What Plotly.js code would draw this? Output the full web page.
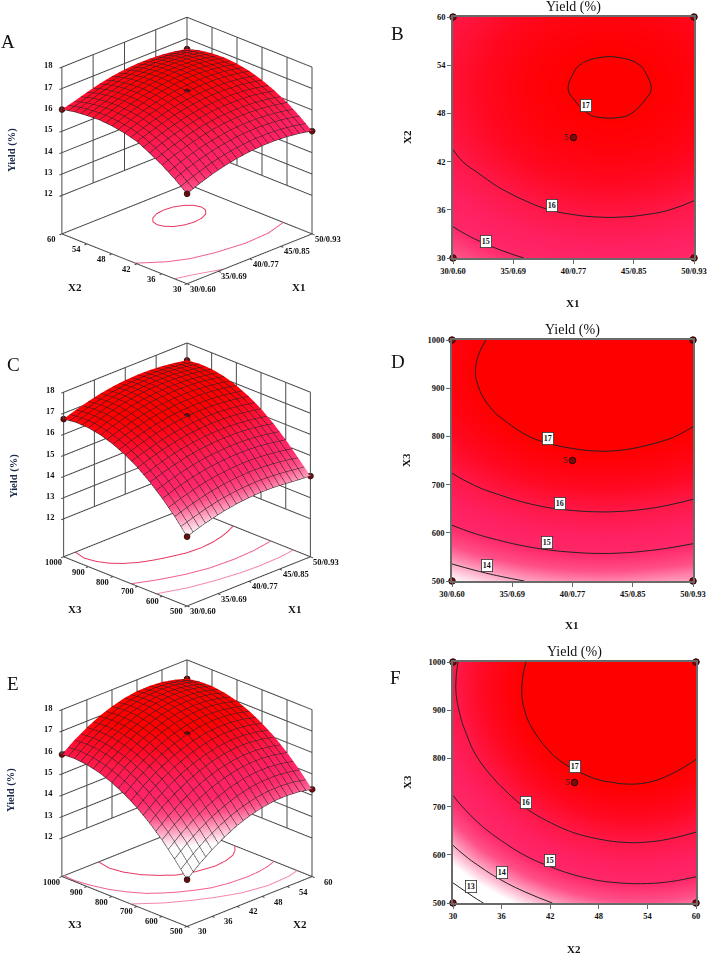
<!DOCTYPE html>
<html><head><meta charset="utf-8">
<script src="https://cdn.plot.ly/plotly-3.0.1.min.js"></script>
<style>html,body{margin:0;padding:0;background:#fff}#g{width:708px;height:954px}</style>
</head><body><div id="g"></div>
<script>
// ---------- axes ----------
const x1Grid=[30,32,34,36,38,40,42,44,46,48,50];
const x2Grid=[30,33,36,39,42,45,48,51,54,57,60];
const x3Grid=[500,550,600,650,700,750,800,850,900,950,1000];
const x1Ticks=[30,35,40,45,50];
const x1Labels=['30/0.60','35/0.69','40/0.77','45/0.85','50/0.93'];
const x2Ticks=[30,36,42,48,54,60];
const x3Ticks=[500,600,700,800,900,1000];
const zTicks=[12,13,14,15,16,17,18];
const contourLevels=[13,14,15,16,17];
const floorZ=10.2, topZ=18;
// ---------- yield, X1 (columns) by X2 (rows) ----------
const yieldX1X2=[
[14.41,14.65,14.85,15.01,15.13,15.21,15.25,15.25,15.21,15.13,15.01],
[14.88,15.12,15.32,15.48,15.60,15.68,15.72,15.72,15.68,15.60,15.48],
[15.28,15.52,15.72,15.88,16.00,16.08,16.12,16.12,16.08,16.00,15.88],
[15.62,15.85,16.04,16.20,16.32,16.40,16.44,16.44,16.40,16.32,16.20],
[15.92,16.12,16.30,16.46,16.58,16.66,16.70,16.70,16.66,16.58,16.46],
[16.08,16.30,16.49,16.65,16.77,16.85,16.89,16.89,16.85,16.77,16.65],
[16.18,16.40,16.60,16.76,16.88,16.97,17.02,17.02,16.97,16.88,16.76],
[16.23,16.45,16.65,16.81,16.93,17.02,17.06,17.06,17.02,16.93,16.81],
[16.20,16.42,16.62,16.78,16.90,16.99,17.03,17.03,16.99,16.90,16.78],
[16.14,16.33,16.53,16.69,16.81,16.89,16.93,16.93,16.89,16.81,16.69],
[16.02,16.18,16.36,16.52,16.64,16.72,16.76,16.76,16.72,16.64,16.52]];
// ---------- yield, X1 (columns) by X3 (rows) ----------
const yieldX1X3=[
[13.49,13.69,13.86,14.00,14.10,14.16,14.19,14.18,14.13,14.07,14.03],
[14.21,14.41,14.58,14.72,14.82,14.88,14.91,14.90,14.85,14.77,14.66],
[14.83,15.03,15.20,15.34,15.44,15.50,15.53,15.52,15.47,15.39,15.28],
[15.37,15.57,15.74,15.88,15.98,16.04,16.07,16.06,16.01,15.93,15.82],
[15.83,16.03,16.20,16.34,16.44,16.50,16.53,16.52,16.47,16.39,16.28],
[16.19,16.39,16.56,16.70,16.80,16.86,16.89,16.88,16.83,16.75,16.64],
[16.47,16.67,16.84,16.98,17.08,17.14,17.17,17.16,17.11,17.03,16.92],
[16.67,16.87,17.04,17.18,17.28,17.34,17.37,17.36,17.31,17.23,17.12],
[16.78,16.98,17.15,17.29,17.39,17.45,17.48,17.47,17.42,17.34,17.23],
[16.80,17.00,17.17,17.31,17.41,17.47,17.50,17.49,17.44,17.36,17.25],
[16.73,16.93,17.10,17.24,17.34,17.40,17.43,17.42,17.37,17.29,17.18]];
// ---------- yield, X2 (columns) by X3 (rows) ----------
const yieldX2X3=[
[12.39,12.89,13.32,13.68,13.98,14.20,14.35,14.44,14.45,14.40,14.28],
[13.12,13.62,14.04,14.40,14.68,14.90,15.05,15.12,15.13,15.07,14.95],
[13.78,14.27,14.68,15.03,15.31,15.52,15.66,15.73,15.73,15.66,15.53],
[14.34,14.83,15.23,15.57,15.85,16.05,16.18,16.25,16.24,16.16,16.03],
[14.82,15.29,15.69,16.03,16.29,16.49,16.62,16.67,16.66,16.58,16.43],
[15.21,15.68,16.07,16.40,16.66,16.85,16.97,17.02,17.00,16.91,16.76],
[15.52,15.99,16.37,16.69,16.95,17.13,17.24,17.29,17.26,17.16,17.01],
[15.75,16.20,16.58,16.90,17.14,17.32,17.43,17.46,17.43,17.33,17.16],
[15.89,16.34,16.71,17.02,17.26,17.43,17.53,17.56,17.52,17.41,17.24],
[15.95,16.39,16.75,17.05,17.29,17.45,17.54,17.57,17.52,17.40,17.22],
[15.91,16.35,16.70,17.00,17.22,17.38,17.47,17.48,17.43,17.30,17.12]];
// ---------- contours projected on the floors of the 3D panels ----------
const floorA17x=[46.55,46.28,45.51,44.36,43,41.64,40.49,39.72,39.45,39.72,40.49,41.64,43,44.36,45.51,46.28,46.55];
const floorA17y=[51.35,52.75,53.93,54.72,55,54.72,53.93,52.75,51.35,49.95,48.77,47.98,47.7,47.98,48.77,49.95,51.35];
const floorA16x=[30,32.85,35.3,38.4,42.8,46.7,50];
const floorA16y=[42.4,39,37.2,36,35.2,35.5,36.9];
const floorA15x=[30,32.3,35.9];
const floorA15y=[33,32,30];
const floorC17x=[31.9,31.4,31.7,32.4,33.5,34.9,36.4,38,40.7,42.9,45,46.8,48.5,50];
const floorC17y=[1000,952,910,875,845,820,803,789,771,767,772,782,796,813];
const floorC16x=[30,33,36.3,39.6,43.5,46.8,50];
const floorC16y=[726,692,664,647,642,647,660];
const floorC15x=[30,33.8,37.7,41.3,44,47.4,50];
const floorC15y=[624,591,571,560,557,560,569];
const floorE17x=[38.8,38.2,38.7,40,41.8,44.1,47.5,51.5,54.5,56.9,58.6,60];
const floorE17y=[1000,948,900,852,815,779,757,746,752,765,785,809];
const floorE16x=[30.5,30.3,30.8,31.7,33.1,35,37,39,41.6,44.5,48,52,55,57.4,60];
const floorE16y=[1000,955,900,845,795,748,718,693,668,645,633,628,631,638,652];
const floorE15x=[30,34.2,38,42,46.6,52,57.4,60];
const floorE15y=[725,665,625,590,559,543,548,560];
// ---------- design points ----------
const pointsAx=[30,50,30,50,40], pointsAy=[60,60,30,30,45], pointsAz=[16.02,16.52,14.41,15.01,16.85];
const pointsCx=[30,50,30,50,40], pointsCy=[1000,1000,500,500,750], pointsCz=[16.73,17.18,13.49,14.03,16.86];
const pointsEx=[30,60,30,60,45], pointsEy=[1000,1000,500,500,750], pointsEz=[15.91,17.12,12.39,14.28,16.85];
// ---------- contour labels ----------
const labelsB=[[41,49,'17'],[38.2,36.5,'16'],[32.7,32,'15']];
const labelsD=[[38,796,'17'],[39,661,'16'],[37.9,579,'15'],[32.9,533,'14']];
const labelsF=[[45,783,'17'],[39,708,'16'],[42,589,'15'],[36,563,'14'],[32.2,534,'13']];

const W=708,H=954;
const px=x=>x/W, py=y=>1-y/H;
const serif='"Liberation Serif","Times New Roman",serif';
const scale=[[0,'#ffffff'],[0.143,'#ffa8c4'],[0.286,'#ff5088'],[0.429,'#ff2868'],[0.571,'#ff2060'],[0.714,'#ff1848'],[0.857,'#ff0820'],[1,'#ff0000']];
const boldTick={family:serif,size:8.5,color:'#111',weight:'bold'};
const gridColor='#4a4a4a';
const traces=[], annotations=[];

function wallLines(sceneId,xt,yt){
  const x0=xt[0],x1=xt[xt.length-1],y0=yt[0],y1=yt[yt.length-1],zb=zTicks[0];
  const dx=(x1-x0)*0.02, dy=(y1-y0)*0.02;
  const X=[],Y=[],Z=[];
  const seg=(a,b)=>{X.push(a[0],b[0],null);Y.push(a[1],b[1],null);Z.push(a[2],b[2],null);};
  zTicks.forEach(z=>{seg([x0,y1,z],[x1,y1,z]);seg([x1,y1,z],[x1,y0,z]);seg([x0-dx,y1,z],[x0,y1,z]);});
  xt.forEach(x=>{seg([x,y1,zb],[x,y1,topZ]);seg([x,y0-dy,floorZ],[x,y0,floorZ]);});
  yt.forEach(y=>{seg([x1,y,zb],[x1,y,topZ]);seg([x0-dx,y,floorZ],[x0,y,floorZ]);});
  seg([x0,y1,floorZ],[x0,y1,topZ]);seg([x1,y0,floorZ],[x1,y0,topZ]);seg([x1,y1,floorZ],[x1,y1,topZ]);
  seg([x0,y1,floorZ],[x0,y0,floorZ]);seg([x0,y0,floorZ],[x1,y0,floorZ]);
  seg([x1,y0,floorZ],[x1,y1,floorZ]);seg([x1,y1,floorZ],[x0,y1,floorZ]);
  traces.push({type:'scatter3d',mode:'lines',scene:sceneId,x:X,y:Y,z:Z,connectgaps:false,line:{color:gridColor,width:2},hoverinfo:'skip',showlegend:false});
}
function tickLabels(xt,xl,yt,yl){
  const x0=xt[0],x1=xt[xt.length-1],y0=yt[0],y1=yt[yt.length-1],out=[];
  const base={showarrow:false,font:boldTick,xanchor:'center',yanchor:'middle'};
  xt.forEach((v,i)=>out.push({...base,x:v,y:y0,z:floorZ,text:xl[i],xshift:16,yshift:-5}));
  yt.forEach((v,i)=>out.push({...base,x:x0,y:v,z:floorZ,text:yl[i],xshift:-10,yshift:-5}));
  zTicks.forEach(z=>out.push({...base,x:x0,y:y1,z:z,text:String(z),xshift:-13,yshift:2}));
  return out;
}
function surfacePanel(id,xg,yg,zm,xt,xl,yt,yl,fx,fy,colors,pts){
  const xs=(xg[xg.length-1]-xg[0])/20, ys=(yg[yg.length-1]-yg[0])/20;
  traces.push({type:'surface',scene:id,x:xg,y:yg,z:zm,colorscale:scale,cmin:13.5,cmax:17,showscale:false,hoverinfo:'skip',
    lighting:{ambient:0.95,diffuse:0.15,specular:0.02,roughness:1,fresnel:0},
    contours:{x:{show:true,start:xg[0],end:xg[xg.length-1],size:xs,color:'#222222',width:1.5,highlight:false},
              y:{show:true,start:yg[0],end:yg[yg.length-1],size:ys,color:'#222222',width:1.5,highlight:false},
              z:{highlight:false}}});
  wallLines(id,xt,yt);
  fx.forEach((cx,i)=>traces.push({type:'scatter3d',mode:'lines',scene:id,x:cx,y:fy[i],z:cx.map(()=>floorZ),line:{color:colors[i],width:2},hoverinfo:'skip',showlegend:false}));
  traces.push({type:'scatter3d',mode:'markers',scene:id,x:pts[0],y:pts[1],z:pts[2],marker:{size:3.5,color:'#6e0a0a',line:{color:'#111',width:1}},hoverinfo:'skip',showlegend:false});
}
function contourPanel(n,xg,yg,zm,xt,xl,yt,yl,dom,labels,pts){
  const s=n===1?'':String(n), xa='x'+s, ya='y'+s;
  traces.push({type:'heatmap',x:xg,y:yg,z:zm,xaxis:xa,yaxis:ya,zsmooth:'best',colorscale:scale,zmin:13.5,zmax:17,showscale:false,hoverinfo:'skip'});
  traces.push({type:'contour',x:xg,y:yg,z:zm,xaxis:xa,yaxis:ya,autocontour:false,showscale:false,hoverinfo:'skip',
    contours:{coloring:'none',start:contourLevels[0],end:contourLevels[contourLevels.length-1],size:1},line:{color:'#222',width:1,smoothing:1.3}});
  traces.push({type:'scatter',mode:'markers+text',x:pts[0],y:pts[1],text:pts[2],textposition:'middle left',textfont:{family:serif,size:9,color:'#222'},xaxis:xa,yaxis:ya,cliponaxis:false,
    marker:{size:6.5,color:'#7a0c0c',line:{color:'#2a0000',width:1}},hoverinfo:'skip',showlegend:false});
  const axis=(ticks,text,d,anchor)=>({domain:d,range:[ticks[0],ticks[ticks.length-1]],tickvals:ticks,ticktext:text,tickmode:'array',anchor:anchor,
    showline:true,mirror:true,linecolor:'#6a6a6a',linewidth:1.5,ticks:'outside',ticklen:4,tickwidth:1.2,tickcolor:'#6a6a6a',tickfont:boldTick,ticklabeloverflow:'allow',
    showgrid:false,zeroline:false,fixedrange:true,layer:'above traces'});
  layout['xaxis'+s]=axis(xt,xl,[px(dom[0]),px(dom[1])],ya);
  layout['yaxis'+s]=axis(yt,yl,[py(dom[3]),py(dom[2])],xa);
  labels.forEach(l=>annotations.push({x:l[0],y:l[1],xref:xa,yref:ya,text:l[2],showarrow:false,bgcolor:'#fff',bordercolor:'#333',borderwidth:0.8,borderpad:1,font:{family:serif,size:8,color:'#111',weight:'bold'}}));
  annotations.push({x:px((dom[0]+dom[1])/2),y:py(dom[2]-10),xref:'paper',yref:'paper',xanchor:'center',yanchor:'middle',text:'Yield (%)',showarrow:false,font:{family:serif,size:14,color:'#111'}});
}
const hiddenAxis=r=>({range:r,showgrid:false,zeroline:false,showline:false,showticklabels:false,ticks:'',showbackground:false,showspikes:false,title:{text:''}});
const padded=r=>{const p=(r[1]-r[0])*0.03;return [r[0]-p,r[1]+p];};
const sceneBase=(dom,xr,yr,ann,lift)=>({
  domain:{x:[px(dom[0]),px(dom[1])],y:[py(dom[3]),py(dom[2])]},
  aspectmode:'manual',aspectratio:{x:1,y:1,z:1.02},
  camera:{eye:{x:-2,y:-2,z:1.23+lift},center:{x:0,y:0,z:lift},up:{x:0,y:0,z:1},projection:{type:'orthographic'}},
  bgcolor:'rgba(0,0,0,0)',annotations:ann,
  xaxis:hiddenAxis(padded(xr)),yaxis:hiddenAxis(padded(yr)),zaxis:hiddenAxis([floorZ-0.2,topZ+0.2])
});
const layout={width:W,height:H,margin:{l:0,r:0,t:0,b:0},paper_bgcolor:'#fff',plot_bgcolor:'#fff',showlegend:false,hovermode:false};

const x2s=x2Ticks.map(String), x3s=x3Ticks.map(String);
const pink=['#e83860','#f06090','#f488a8'];
surfacePanel('scene',x1Grid,x2Grid,yieldX1X2,x1Ticks,x1Labels,x2Ticks,x2s,[floorA17x,floorA16x,floorA15x],[floorA17y,floorA16y,floorA15y],pink,[pointsAx,pointsAy,pointsAz]);
surfacePanel('scene2',x1Grid,x3Grid,yieldX1X3,x1Ticks,x1Labels,x3Ticks,x3s,[floorC17x,floorC16x,floorC15x],[floorC17y,floorC16y,floorC15y],pink,[pointsCx,pointsCy,pointsCz]);
surfacePanel('scene3',x2Grid,x3Grid,yieldX2X3,x2Ticks,x2s,x3Ticks,x3s,[floorE17x,floorE16x,floorE15x],[floorE17y,floorE16y,floorE15y],pink,[pointsEx,pointsEy,pointsEz]);
layout.scene=sceneBase([10,364,0,375],[30,50],[30,60],tickLabels(x1Ticks,x1Labels,x2Ticks,x2s),-0.215);
layout.scene2=sceneBase([10,364,298,668],[30,50],[500,1000],tickLabels(x1Ticks,x1Labels,x3Ticks,x3s),-0.05);
layout.scene3=sceneBase([10,364,579,954],[30,60],[500,1000],tickLabels(x2Ticks,x2s,x3Ticks,x3s),0.155);

const five=['','','','','5'];
contourPanel(1,x1Grid,x2Grid,yieldX1X2,x1Ticks,x1Labels,x2Ticks,x2s,[453,694,17,258],labelsB,[pointsAx,pointsAy,five]);
contourPanel(2,x1Grid,x3Grid,yieldX1X3,x1Ticks,x1Labels,x3Ticks,x3s,[452,693,340,581],labelsD,[pointsCx,pointsCy,five]);
contourPanel(3,x2Grid,x3Grid,yieldX2X3,x2Ticks,x2s,x3Ticks,x3s,[453,696,662,903],labelsF,[pointsEx,pointsEy,five]);

const anchored={xref:'paper',yref:'paper',xanchor:'center',yanchor:'middle',showarrow:false};
const letter=(t,x,y)=>annotations.push({...anchored,x:px(x),y:py(y),text:t,font:{family:serif,size:19,color:'#111'}});
letter('A',8,42);letter('B',397,34);letter('C',13,364);letter('D',398,361);letter('E',13,683);letter('F',396,677);
const sideText=(t,x,y,rot,size)=>annotations.push({...anchored,x:px(x),y:py(y),text:t,textangle:rot,font:{family:serif,size:size,color:'#1a2a4a',weight:'bold'}});
sideText('Yield (%)',12,150,-90,10.5);sideText('Yield (%)',14,476,-90,10.5);sideText('Yield (%)',11,790,-90,10.5);
const axisText=(t,x,y,rot)=>annotations.push({...anchored,x:px(x),y:py(y),text:t,textangle:rot||0,font:{family:serif,size:11,color:'#111',weight:'bold'}});
axisText('X2',75,287);axisText('X1',298,287);axisText('X3',75,609);axisText('X1',294,609);axisText('X3',75,924);axisText('X2',300,924);
axisText('X1',572,303);axisText('X2',407,137,-90);axisText('X1',571,625);axisText('X3',406,460,-90);axisText('X2',574,949);axisText('X3',407,782,-90);
layout.annotations=annotations;

Plotly.newPlot('g',traces,layout,{displayModeBar:false});
</script>
</body></html>
